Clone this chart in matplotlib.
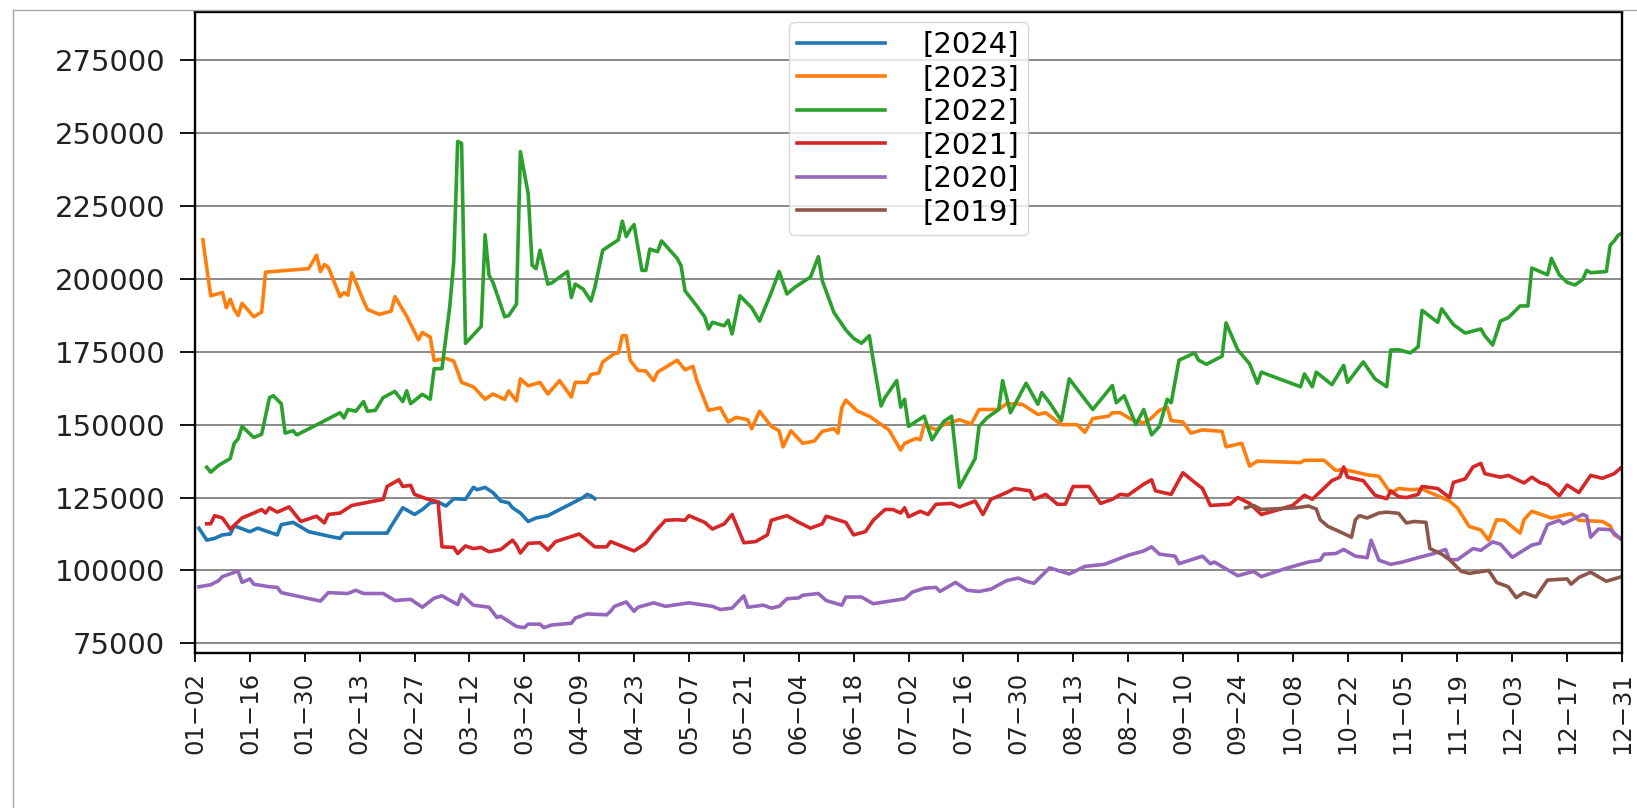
import matplotlib
matplotlib.use("Agg")
import matplotlib.pyplot as plt
from matplotlib.lines import Line2D

plt.rcParams["font.family"] = ["DejaVu Sans"]

# x positions are day offsets from 01-02 (leap-year calendar)
tick_labels = ["01−02", "01−16", "01−30", "02−13", "02−27", "03−12", "03−26", "04−09",
               "04−23", "05−07", "05−21", "06−04", "06−18", "07−02", "07−16", "07−30",
               "08−13", "08−27", "09−10", "09−24", "10−08", "10−22", "11−05", "11−19",
               "12−03", "12−17", "12−31"]
y_ticks = [75000, 100000, 125000, 150000, 175000, 200000, 225000, 250000, 275000]
years = ["[2024]", "[2023]", "[2022]", "[2021]", "[2020]", "[2019]"]

s2024 = [(1, 114500), (3, 110400), (5, 111000), (7, 112200), (9, 112500), (10, 115300),
         (14, 113300), (16, 114500), (21, 112200), (22, 115700), (25, 116500), (29, 113300),
         (34, 111800), (37, 111000), (38, 112800), (49, 112800), (50, 115100), (53, 121500),
         (56, 119200), (58, 120900), (60, 123200), (62, 123500), (64, 122100), (66, 124600),
         (69, 124400), (71, 128500), (72, 127700), (74, 128500), (76, 126700), (78, 123800),
         (80, 123200), (81, 121500), (83, 119700), (85, 116800), (87, 118000), (90, 118800),
         (99, 125000), (100, 126100), (101, 125600), (102, 124600)]

s2023 = [(2, 213400), (4, 194200), (7, 195300), (8, 190100), (9, 193000), (10, 189500),
         (11, 187400), (12, 191600), (13, 190100), (15, 187000), (17, 188600), (18, 202300),
         (29, 203500), (31, 208100), (32, 202500), (33, 204900), (34, 204000), (37, 193900),
         (38, 195300), (39, 194400), (40, 202100), (43, 192400), (44, 189500), (47, 187800),
         (50, 188900), (51, 193900), (54, 187200), (57, 179100), (58, 181600), (60, 180000),
         (61, 172000), (64, 172700), (66, 171800), (68, 164500), (71, 163000), (74, 158700),
         (76, 160500), (79, 158700), (80, 161600), (82, 158100), (83, 165700), (85, 163300),
         (88, 164500), (90, 160500), (93, 165100), (96, 159500), (97, 164500), (100, 164500),
         (101, 167200), (103, 167700), (104, 171500), (107, 174400), (108, 174600), (109, 180500),
         (110, 180500), (111, 172100), (113, 168600), (115, 168400), (117, 165100), (118, 168000),
         (123, 172100), (125, 168800), (127, 170000), (128, 165100), (131, 154900), (134, 155800),
         (136, 150900), (138, 152500), (141, 151700), (142, 148600), (144, 154600), (147, 149400),
         (149, 147900), (150, 142400), (152, 147900), (155, 143600), (158, 144400), (160, 147700),
         (163, 148600), (164, 147100), (165, 155800), (166, 158400), (169, 154600), (172, 152900),
         (177, 148200), (180, 141300), (181, 143600), (184, 145300), (185, 144800), (186, 150000),
         (189, 148200), (191, 150000), (195, 151700), (198, 150200), (200, 155200), (205, 155200),
         (207, 157200), (211, 157000), (215, 153500), (217, 154100), (221, 150000), (225, 150000),
         (227, 147400), (229, 152100), (233, 152900), (234, 154100), (236, 154100), (239, 151700),
         (242, 150600), (244, 152300), (246, 154900), (248, 156000), (249, 151400), (252, 150900),
         (254, 147100), (257, 148200), (262, 147700), (263, 142400), (267, 143600), (269, 135800),
         (271, 137500), (282, 137000), (283, 137800), (288, 137800), (291, 134300), (293, 134700),
         (299, 132800), (302, 132300), (305, 126500), (307, 128100), (310, 127700), (313, 127900),
         (317, 125600), (320, 123800), (322, 121500), (325, 115100), (328, 113900), (330, 110400),
         (332, 117400), (334, 117200), (338, 112800), (339, 117400), (341, 120300), (346, 118000),
         (351, 119500), (353, 117200), (359, 116800), (361, 115300), (362, 112200), (364, 110700)]

s2022 = [(3, 135400), (4, 133700), (6, 136000), (9, 138400), (10, 143600), (11, 145100),
         (12, 149400), (15, 145600), (17, 146700), (19, 159300), (20, 159900), (22, 157200),
         (23, 147100), (25, 147900), (26, 146500), (32, 150600), (37, 154100), (38, 152300),
         (39, 155200), (41, 154600), (43, 157900), (44, 154600), (46, 154900), (48, 159300),
         (51, 161400), (53, 157900), (54, 161600), (55, 157200), (58, 160400), (60, 158700),
         (61, 169200), (63, 169200), (65, 190700), (66, 205800), (67, 247100), (68, 246500),
         (69, 177900), (73, 183700), (74, 215100), (75, 201200), (76, 198800), (79, 187000),
         (80, 187400), (82, 191300), (83, 243600), (85, 229100), (86, 204600), (87, 203500),
         (88, 209800), (90, 198200), (91, 198600), (95, 202500), (96, 193600), (97, 198200),
         (99, 196500), (101, 192400), (102, 197100), (104, 209800), (108, 213400), (109, 219800),
         (110, 214500), (111, 216900), (112, 218600), (114, 202900), (115, 202900), (116, 210200),
         (118, 209300), (119, 213000), (123, 207000), (124, 204400), (125, 195900), (128, 190700),
         (130, 187000), (131, 182800), (132, 185100), (135, 183900), (136, 185800), (137, 181100),
         (139, 194200), (142, 190100), (144, 185500), (147, 195300), (149, 202500), (151, 194800),
         (153, 197100), (157, 200600), (159, 207600), (160, 199400), (163, 188400), (166, 182500),
         (168, 179600), (170, 177900), (172, 180500), (173, 172100), (175, 156400), (176, 159300),
         (179, 165100), (180, 156000), (181, 158700), (182, 149400), (186, 152900), (188, 144800),
         (191, 151100), (193, 152900), (195, 128500), (199, 138400), (200, 149400), (202, 152300),
         (205, 155200), (206, 165100), (208, 154100), (212, 164200), (215, 157000), (216, 161000),
         (218, 157500), (221, 151400), (223, 165700), (227, 158700), (229, 155200), (234, 163400),
         (235, 157500), (237, 159900), (240, 150000), (242, 155200), (244, 146500), (246, 149400),
         (248, 158700), (249, 157500), (251, 172100), (255, 174600), (256, 172100), (258, 170700),
         (262, 173500), (263, 184900), (266, 175600), (269, 170900), (271, 164200), (272, 168000),
         (282, 163000), (283, 167400), (285, 163000), (286, 168000), (290, 163700), (293, 170300),
         (294, 164500), (298, 171500), (301, 165700), (304, 163000), (305, 175600), (307, 175700),
         (310, 174600), (312, 176700), (313, 189200), (317, 185100), (318, 189700), (321, 184300),
         (324, 181400), (328, 182800), (329, 180500), (331, 177300), (333, 185500), (335, 186700),
         (338, 190700), (340, 190700), (341, 203700), (345, 201400), (346, 207000), (348, 201400),
         (350, 198800), (352, 197900), (354, 199800), (355, 202900), (356, 202100), (360, 202500),
         (361, 211600), (362, 213000), (363, 214900), (364, 215700)]

s2021 = [(3, 116000), (4, 116000), (5, 118800), (7, 118000), (9, 114200), (12, 118000),
         (15, 119700), (17, 120900), (18, 119700), (19, 121500), (21, 120000), (24, 121800),
         (27, 116800), (31, 118600), (33, 116300), (34, 119200), (37, 119700), (40, 122300),
         (48, 124400), (49, 128800), (52, 131100), (53, 128800), (55, 129200), (56, 126100),
         (59, 124600), (62, 123500), (63, 108100), (66, 107900), (67, 105800), (69, 108400),
         (71, 107500), (73, 107900), (75, 106400), (78, 107200), (81, 110400), (82, 108700),
         (83, 106000), (85, 109300), (88, 109500), (90, 107000), (92, 109900), (98, 112500),
         (102, 108100), (105, 108100), (106, 109900), (112, 106700), (115, 109300), (117, 112800),
         (120, 117200), (123, 117400), (125, 117200), (126, 118800), (130, 116500), (132, 114200),
         (135, 116000), (137, 119200), (140, 109500), (143, 109900), (146, 112200), (147, 117200),
         (151, 118800), (154, 116500), (157, 114500), (160, 116000), (161, 118600), (166, 116500),
         (168, 112200), (171, 113300), (173, 117200), (176, 120900), (178, 120900), (180, 119700),
         (181, 121500), (182, 118400), (185, 120300), (187, 119200), (189, 122700), (193, 123000),
         (195, 121800), (199, 123800), (201, 119200), (203, 124400), (207, 126700), (209, 128100),
         (213, 127300), (214, 124400), (217, 126100), (220, 122700), (222, 122700), (224, 128800),
         (228, 128800), (231, 123000), (234, 124400), (236, 126100), (238, 125800), (242, 129600),
         (244, 131100), (245, 127300), (249, 126100), (252, 133500), (255, 130200), (257, 128100),
         (259, 122300), (264, 122700), (266, 125000), (269, 123000), (272, 119200), (275, 120300),
         (280, 122300), (283, 125800), (285, 124400), (290, 130800), (292, 132000), (293, 135500),
         (294, 132000), (298, 130800), (301, 125800), (304, 124600), (305, 127300), (307, 125300),
         (309, 125000), (312, 126100), (313, 128800), (317, 128100), (320, 125000), (321, 130200),
         (324, 131400), (326, 135500), (328, 136700), (329, 133200), (333, 132000), (335, 132600),
         (339, 130000), (341, 132000), (343, 130200), (345, 129300), (348, 125600), (350, 129300),
         (353, 126700), (356, 132600), (359, 131600), (362, 133200), (364, 135500)]

s2020 = [(1, 94400), (4, 95100), (6, 96500), (7, 97900), (11, 99800), (12, 95900),
         (14, 97100), (15, 95300), (19, 94400), (21, 94200), (22, 92400), (32, 89500),
         (34, 92400), (39, 92100), (41, 93200), (43, 92100), (48, 92100), (51, 89700),
         (55, 90100), (58, 87400), (61, 90500), (63, 91300), (67, 88300), (68, 91800),
         (71, 88100), (75, 87400), (77, 83900), (78, 84300), (82, 80800), (84, 80400),
         (85, 81600), (88, 81600), (89, 80400), (91, 81300), (96, 81900), (97, 83700),
         (100, 85100), (105, 84800), (106, 86000), (107, 87700), (110, 89200), (112, 86000),
         (113, 87400), (117, 88900), (120, 87700), (123, 88300), (126, 88900), (132, 87700),
         (134, 86600), (137, 87100), (140, 91300), (141, 87400), (145, 88100), (147, 87100),
         (149, 87700), (151, 90300), (154, 90600), (155, 91500), (159, 92100), (161, 89700),
         (165, 88100), (166, 90900), (170, 90900), (173, 88600), (181, 90300), (183, 92600),
         (186, 93900), (189, 94200), (190, 92800), (194, 95900), (197, 93200), (200, 92800),
         (203, 93600), (207, 96500), (210, 97400), (212, 96300), (214, 95600), (218, 100900),
         (223, 98800), (227, 101400), (232, 102100), (238, 105200), (242, 106700), (244, 108100),
         (246, 105600), (250, 104900), (251, 102300), (253, 103200), (257, 104900), (259, 102300),
         (260, 102900), (266, 98200), (270, 99700), (272, 97900), (278, 100600), (284, 102900),
         (287, 103500), (288, 105600), (291, 105800), (293, 107200), (296, 104900), (299, 104400),
         (300, 110400), (302, 103500), (305, 102100), (308, 102900), (312, 104400), (316, 105800),
         (319, 107200), (320, 103700), (322, 103700), (326, 107500), (328, 106900), (331, 109800),
         (333, 109000), (336, 104500), (341, 108700), (343, 109300), (345, 115700), (348, 117200),
         (349, 116000), (354, 119200), (355, 118600), (356, 111400), (358, 114200), (361, 114000),
         (362, 112800), (364, 110400)]

s2019 = [(268, 121500), (270, 122300), (272, 120900), (281, 121500), (284, 122100), (286, 121100),
         (287, 117400), (289, 115100), (292, 113300), (295, 111400), (296, 117400), (297, 118800),
         (299, 118000), (302, 119700), (304, 120000), (307, 119600), (309, 116300), (311, 116800),
         (314, 116500), (315, 107500), (318, 105600), (320, 103700), (323, 99700), (325, 99000),
         (330, 100000), (332, 95900), (335, 94400), (337, 90700), (339, 92400), (342, 90900),
         (345, 96700), (350, 97100), (351, 95300), (353, 97600), (356, 99400), (360, 96300),
         (364, 97900)]

series = [s2024, s2023, s2022, s2021, s2020, s2019]
colors = ["#1f77b4", "#ff7f0e", "#2ca02c", "#d62728", "#9467bd", "#8c564b"]

W, H = 1637, 808
fig = plt.figure(figsize=(W / 100, H / 100), dpi=100)
ax = fig.add_axes([195 / W, 1 - 653 / H, (1622 - 195) / W, (653 - 12) / H])

for lab, pts, col in zip(years, series, colors):
    xs = [p[0] for p in pts]
    ys = [p[1] for p in pts]
    ax.plot(xs, ys, color=col, lw=2.6, label=lab)

ax.set_xlim(0, 364)
ax.set_ylim(71700, 291500)
ax.set_yticks(y_ticks)
ax.set_yticklabels([str(v) for v in y_ticks], fontsize=21)
ax.set_xticks(list(range(0, 365, 14)))
ax.set_xticklabels(tick_labels, rotation=90, fontsize=17.5)
ax.grid(axis="y", color="#8a8a8a", lw=1.4)
ax.set_axisbelow(True)
for sp in ax.spines.values():
    sp.set_linewidth(1.7)
    sp.set_color("black")
ax.tick_params(axis="y", length=10.5, width=1.3, pad=11, colors="black", labelcolor="#222222")
ax.tick_params(axis="x", length=6.5, width=1.3, pad=7, colors="black", labelcolor="#222222")

leg = ax.legend(loc="upper center", fontsize=21, handlelength=3.0, handletextpad=1.3,
                labelspacing=0.19, borderpad=0.3, borderaxespad=0.35,
                framealpha=0.8, edgecolor="#cccccc")
for ln in leg.get_lines():
    ln.set_linewidth(2.6)

fig.add_artist(Line2D([13 / W, 13 / W], [0, 1 - 10 / H], transform=fig.transFigure,
                      color="#a8a8a8", lw=1.0))
fig.add_artist(Line2D([13 / W, 1], [1 - 10 / H, 1 - 10 / H], transform=fig.transFigure,
                      color="#a8a8a8", lw=1.0))

fig.savefig("out.png", dpi=100, facecolor="white")
